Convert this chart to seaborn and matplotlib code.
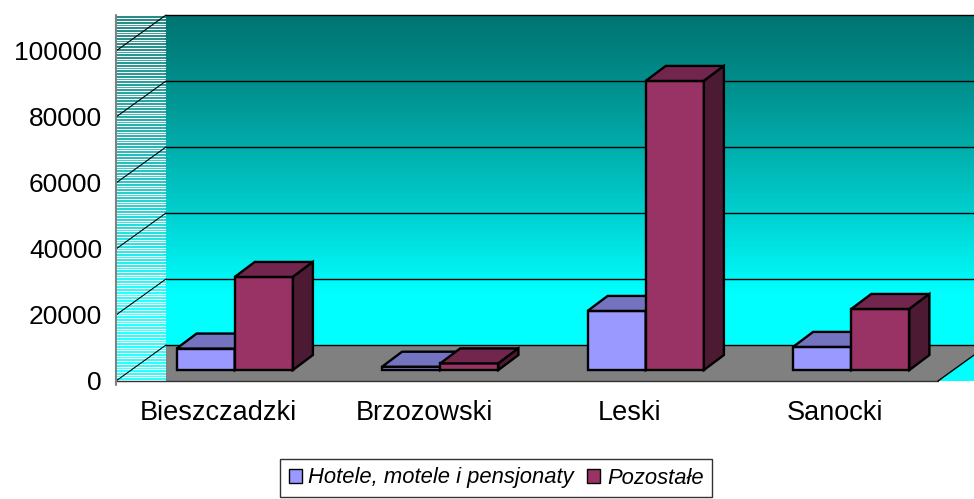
import numpy as np
import pandas as pd
import seaborn as sns
import matplotlib.pyplot as plt
from matplotlib.patches import Polygon, Patch
from matplotlib.transforms import ScaledTranslation
from matplotlib.colors import to_rgb

# data
powiaty = ["Bieszczadzki", "Brzozowski", "Leski", "Sanocki"]
hotele = [6500, 1000, 17900, 7000]
pozostale = [28200, 2000, 87600, 18500]
serie = ["Hotele, motele i pensjonaty", "Pozostałe"]
kolory = ["#9999FF", "#993366"]
y_ticks = [0, 20000, 40000, 60000, 80000, 100000]

df = pd.DataFrame({
    "powiat": powiaty * 2,
    "liczba": hotele + pozostale,
    "typ": [serie[0]] * len(powiaty) + [serie[1]] * len(powiaty),
})

sns.set_style("white")
plt.rcParams['font.family'] = ['Liberation Sans', 'DejaVu Sans']
plt.rcParams['text.color'] = 'black'
plt.rcParams['xtick.labelcolor'] = 'black'
plt.rcParams['ytick.labelcolor'] = 'black'

W, H = 974, 499
DX, DY = 50, 36      # depth of the walls (px)
SX, SY = 16, 11      # bars sit a bit behind the front plane
BX, BY = 20, 15      # depth of a bar

fig = plt.figure(figsize=(W / 100, H / 100), dpi=100)
bg = fig.add_axes([0, 0, 1, 1], zorder=0)
bg.set_axis_off()
ax = fig.add_axes([116 / W, 118 / H, 822 / W, 330 / H], zorder=1)
ax.patch.set_visible(False)

sns.barplot(data=df, x="powiat", y="liczba", hue="typ", palette=kolory,
            width=0.566, edgecolor="black", linewidth=1.7, saturation=1,
            legend=False, ax=ax)
ax.set_xlim(-0.5, len(powiaty) - 0.5)
ax.set_ylim(0, 100000)
sns.despine(ax=ax, left=True, bottom=True)
ax.set_xlabel("")
ax.set_ylabel("")

# pixel helpers (bg axes maps 1:1 to display pixels)
def px(x, y):
    return ax.transData.transform((x, y))

x_left, y0 = px(-0.5, 0)
x_right, _ = px(len(powiaty) - 0.5, 0)
y_top = px(-0.5, y_ticks[-1])[1] + DY
y_full = H - 295  # where the wall gradient becomes pure cyan

dark = np.array([0.0, 0.46, 0.45])
cyan = np.array([0.0, 1.0, 1.0])
rows = np.arange(y_top, y0 - 1, -1.0)
t = np.clip((y_top - rows) / (y_top - y_full), 0, 1)[:, None] ** 1.2
grad = (dark + (cyan - dark) * t)[:, None, :]

# back wall
bg.imshow(grad, extent=[x_left + DX, W + DX, y0, y_top], aspect="auto",
          interpolation="bilinear", zorder=0)

# floor
bg.add_patch(Polygon([(x_left, y0), (x_right, y0), (x_right + DX, y0 + DY),
                      (x_left + DX, y0 + DY)], closed=True, facecolor="#808080",
                     edgecolor="none", zorder=1))

# left wall with stripes
bg.imshow(grad, extent=[x_left, x_left + DX, y0, y_top], aspect="auto",
          interpolation="bilinear", zorder=2)
for yy in np.arange(y0 + 1, y_top, 2.7):
    bg.plot([x_left, x_left + DX - 1], [yy, yy], color="white", lw=0.95, zorder=3)

# grid lines
for v in y_ticks:
    yv = px(-0.5, v)[1]
    bg.plot([x_left, x_left + DX], [yv, yv + DY], color="black", lw=0.8, zorder=4)
    bg.plot([x_left + DX, W + DX], [yv + DY, yv + DY], color="black", lw=1.0, zorder=4)

bg.plot([x_left, x_right], [y0, y0], color="#333333", lw=1.0, zorder=4)
bg.plot([x_right, x_right + DX], [y0, y0 + DY], color="black", lw=1.0, zorder=4)
bg.plot([x_left, x_left], [y0 - 4, y_top], color="#808080", lw=1.5, zorder=5)

bg.set_xlim(0, W)
bg.set_ylim(0, H)

# 3d look for the bars
shift = ScaledTranslation(SX / 100, SY / 100, fig.dpi_scale_trans)
n = len(powiaty)
for i, p in enumerate(ax.patches):
    k = i // n
    base = np.array(to_rgb(kolory[k]))
    p.set_transform(ax.transData + shift)
    p.set_zorder(2 + k)
    p.set_clip_on(False)
    x0 = p.get_x()
    x1 = x0 + p.get_width()
    h = p.get_height()
    a, yb = px(x0, 0) + (SX, SY)
    b, yt = px(x1, h) + (SX, SY)
    top = Polygon([(a, yt), (b, yt), (b + BX, yt + BY), (a + BX, yt + BY)], closed=True,
                  facecolor=base * 0.75, edgecolor="black", lw=1.7,
                  transform=bg.transData, zorder=2.5 + k, clip_on=False)
    side = Polygon([(b, yb), (b, yt), (b + BX, yt + BY), (b + BX, yb + BY)], closed=True,
                   facecolor=base * 0.5, edgecolor="black", lw=1.7,
                   transform=bg.transData, zorder=2.5 + k, clip_on=False)
    ax.add_patch(top)
    ax.add_patch(side)

# axes ticks and labels
ax.set_yticks(y_ticks)
ax.set_yticklabels([str(v) for v in y_ticks])
ax.tick_params(axis="y", length=4, width=1, color="#808080", labelsize=19, pad=6,
               labelcolor="black")
ax.set_xticks(range(n))
ax.set_xticklabels(powiaty)
ax.set_xticks([i + 0.5 for i in range(n)], minor=True)
ax.tick_params(axis="x", which="major", length=0, labelsize=19.5, pad=14,
               labelcolor="black")
ax.tick_params(axis="x", which="minor", length=4, width=1, color="#808080")

handles = [Patch(facecolor=c, edgecolor="black", lw=1) for c in kolory]
leg = fig.legend(handles, serie, loc="center", bbox_to_anchor=(496 / W, 21 / H),
                 ncol=2, frameon=True, fancybox=False, edgecolor="black",
                 prop=dict(style="italic", size=15.8), handlelength=0.6,
                 handleheight=0.6, handletextpad=0.3, columnspacing=0.6,
                 borderpad=0.4)
leg.get_frame().set_linewidth(1)
for txt in leg.get_texts():
    txt.set_color("black")

fig.savefig("out.png", dpi=100)
